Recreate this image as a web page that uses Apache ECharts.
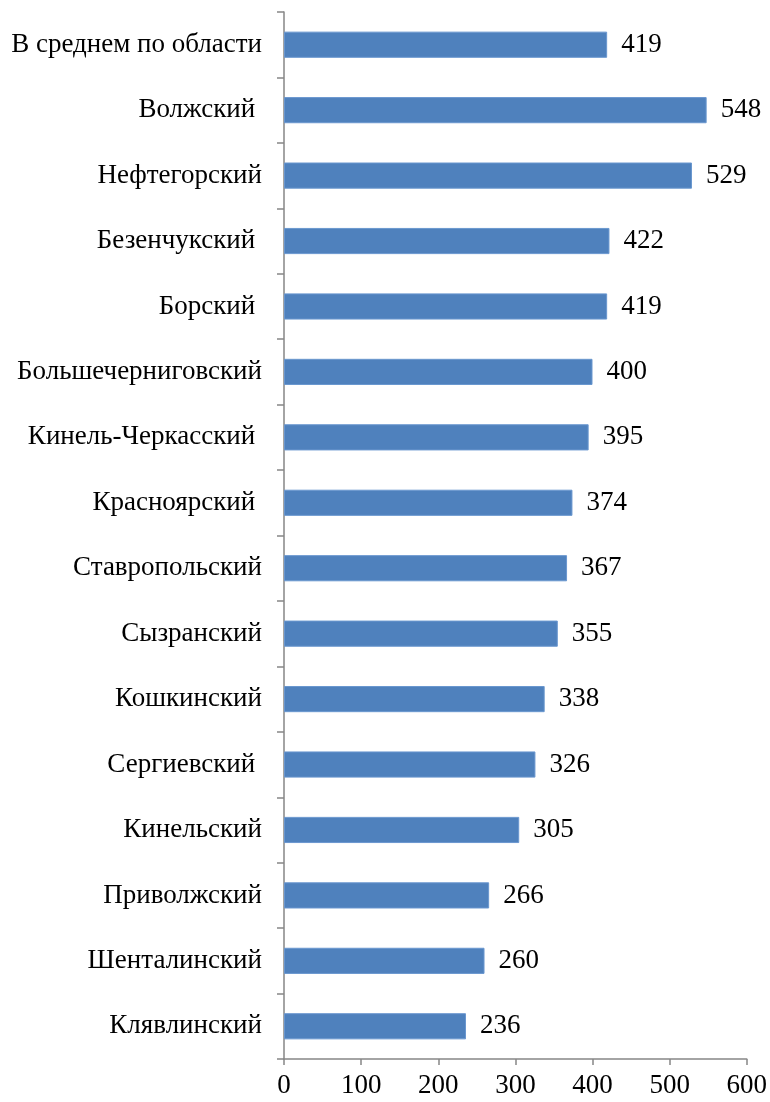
<!DOCTYPE html>
<html>
<head>
<meta charset="utf-8">
<script src="https://cdn.jsdelivr.net/npm/echarts@6/dist/echarts.min.js"></script>
<style>
  html, body { margin: 0; padding: 0; background: #ffffff; }
  #chart { width: 770px; height: 1102px; }
</style>
</head>
<body>
<div id="chart"></div>
<script>
// Districts, listed top to bottom
const districts = [
  'В среднем по области',
  'Волжский ',
  'Нефтегорский',
  'Безенчукский ',
  'Борский ',
  'Большечерниговский',
  'Кинель-Черкасский ',
  'Красноярский ',
  'Ставропольский',
  'Сызранский',
  'Кошкинский',
  'Сергиевский ',
  'Кинельский',
  'Приволжский',
  'Шенталинский',
  'Клявлинский'
];
const values = [419, 548, 529, 422, 419, 400, 395, 374, 367, 355, 338, 326, 305, 266, 260, 236];

const xMin = 0;
const xMax = 600;
const xStep = 100;

const axisColor = '#868686';
const font = '"Liberation Serif", "Times New Roman", serif';

const chart = echarts.init(document.getElementById('chart'), null, { renderer: 'canvas' });
chart.setOption({
  animation: false,
  backgroundColor: '#ffffff',
  grid: { left: 284, right: 23, top: 12, bottom: 43, containLabel: false },
  xAxis: {
    type: 'value',
    min: xMin,
    max: xMax,
    interval: xStep,
    axisLine: { show: true, lineStyle: { color: axisColor, width: 1.5 } },
    axisTick: { show: true, length: 6, lineStyle: { color: axisColor, width: 1.5 } },
    splitLine: { show: false },
    axisLabel: { color: '#000', fontFamily: font, fontSize: 27, margin: 13 }
  },
  yAxis: {
    type: 'category',
    inverse: true,
    data: districts,
    axisLine: { show: true, lineStyle: { color: axisColor, width: 1.5 } },
    axisTick: { show: true, length: 7, lineStyle: { color: axisColor, width: 1.5 } },
    axisLabel: { color: '#000', fontFamily: font, fontSize: 27, margin: 22 }
  },
  series: [{
    type: 'bar',
    data: values,
    barWidth: '40%',
    itemStyle: { color: '#4F81BD', borderColor: '#6A97CF', borderWidth: 1 },
    label: {
      show: true,
      position: 'right',
      distance: 14,
      color: '#000',
      fontFamily: font,
      fontSize: 27
    }
  }]
});
</script>
</body>
</html>
